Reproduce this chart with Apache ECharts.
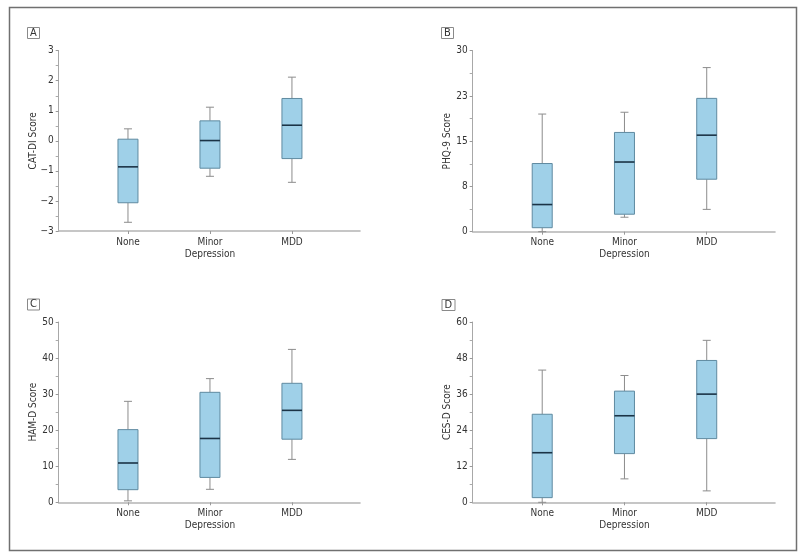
<!DOCTYPE html>
<html>
<head>
<meta charset="utf-8">
<script src="https://cdn.jsdelivr.net/npm/echarts@6/dist/echarts.min.js"></script>
<style>
html,body{margin:0;padding:0;background:#fff;}
#main{width:800px;height:554px;}
</style>
</head>
<body>
<div id="main"></div>
<script>
// ---- data ----
const categories = ['None', 'Minor\nDepression', 'MDD'];
// each entry: [lower whisker, Q1, median, Q3, upper whisker]
const catdiBoxes = [
  [-2.71, -2.06, -0.865, 0.055, 0.40],
  [-1.18, -0.91, 0.01, 0.665, 1.12],
  [-1.38, -0.59, 0.52, 1.41, 2.12]
];
const phq9Boxes = [
  [0, 0.66, 4.5, 11.3, 19.5],
  [2.4, 2.9, 11.55, 16.45, 19.8],
  [3.7, 8.7, 16.0, 22.1, 27.2]
];
const hamdBoxes = [
  [0.4, 3.5, 10.9, 20.15, 28.0],
  [3.6, 6.9, 17.7, 30.5, 34.3],
  [11.9, 17.5, 25.5, 33.0, 42.4]
];
const cesdBoxes = [
  [0, 1.55, 16.5, 29.3, 44.0],
  [7.8, 16.2, 28.8, 37.0, 42.2],
  [3.8, 21.2, 36.0, 47.2, 53.9]
];
const panelLetters = ['A', 'B', 'C', 'D'];
const axisNames = ['CAT-DI Score', 'PHQ-9 Score', 'HAM-D Score', 'CES-D Score'];
const yMins = [-3, 0, 0, 0];
const yMaxs = [3, 30, 50, 60];
const yIntervals = [1, 7.5, 10, 12];

// ---- styling / layout ----
const FONT = '"Liberation Sans Narrow", "DejaVu Sans Condensed", "Liberation Sans", sans-serif';
const FS = 10;
const grids = [
  {left: 58.7, right: 440, top: 50.7, bottom: 323},
  {left: 472.7, right: 25, top: 50.7, bottom: 322.3},
  {left: 58.7, right: 440, top: 322, bottom: 51.7},
  {left: 472.7, right: 25, top: 322, bottom: 51.7}
];
const letterPos = [[27, 27], [441, 27], [27, 298.5], [441.5, 299]];
const allBoxes = [catdiBoxes, phq9Boxes, hamdBoxes, cesdBoxes];

const BOX_HALF = 10, CAP_HALF = 4;
const FILL = '#9fd0e8', BOX_STROKE = '#5f8aa0', MED = '#1b3346', WHISK = '#8c8c8c';

function renderBox(params, api) {
  const x = api.value(0);
  const pMin = api.coord([x, api.value(1)]);
  const pQ1 = api.coord([x, api.value(2)]);
  const pMed = api.coord([x, api.value(3)]);
  const pQ3 = api.coord([x, api.value(4)]);
  const pMax = api.coord([x, api.value(5)]);
  const cx = pMed[0];
  const ws = {stroke: WHISK, lineWidth: 1};
  return {
    type: 'group',
    children: [
      {type: 'line', shape: {x1: cx, y1: pMax[1], x2: cx, y2: pQ3[1]}, style: ws},
      {type: 'line', shape: {x1: cx, y1: pQ1[1], x2: cx, y2: pMin[1]}, style: ws},
      {type: 'line', shape: {x1: cx - CAP_HALF, y1: pMax[1], x2: cx + CAP_HALF, y2: pMax[1]}, style: ws},
      {type: 'line', shape: {x1: cx - CAP_HALF, y1: pMin[1], x2: cx + CAP_HALF, y2: pMin[1]}, style: ws},
      {type: 'rect', shape: {x: cx - BOX_HALF, y: pQ3[1], width: 2 * BOX_HALF, height: pQ1[1] - pQ3[1]},
        style: {fill: FILL, stroke: BOX_STROKE, lineWidth: 1}},
      {type: 'line', shape: {x1: cx - BOX_HALF, y1: pMed[1], x2: cx + BOX_HALF, y2: pMed[1]},
        style: {stroke: MED, lineWidth: 1.6}}
    ]
  };
}

const catPositions = categories.map((c, i) => i + 1);

const option = {
  animation: false,
  backgroundColor: '#fff',
  textStyle: {fontFamily: FONT},
  title: panelLetters.map((t, i) => ({
    text: t, left: letterPos[i][0], top: letterPos[i][1],
    padding: [0, 3, 0, 3], borderColor: '#8a8a8a', borderWidth: 1,
    textStyle: {fontSize: 11, fontWeight: 'normal', color: '#333', fontFamily: FONT, lineHeight: 12}
  })),
  graphic: [{
    type: 'rect', left: 7, top: 5, silent: true,
    shape: {width: 787, height: 543},
    style: {fill: 'none', stroke: '#707070', lineWidth: 1.5}
  }],
  grid: grids,
  xAxis: grids.map((g, i) => ({
    type: 'value', gridIndex: i, min: 0.155, max: 3.83,
    splitLine: {show: false},
    axisLine: {show: true, onZero: false, lineStyle: {color: '#b4b4b4', width: 1.6}},
    axisTick: {show: true, customValues: catPositions, length: 3, lineStyle: {color: '#999'}},
    axisLabel: {
      show: true, customValues: catPositions, margin: 5,
      fontSize: FS, color: '#333', fontFamily: FONT, lineHeight: 12,
      formatter: v => categories[Math.round(v) - 1] || ''
    }
  })),
  yAxis: grids.map((g, i) => ({
    type: 'value', gridIndex: i, min: yMins[i], max: yMaxs[i], interval: yIntervals[i],
    name: axisNames[i], nameLocation: 'middle', nameGap: 20, nameMoveOverlap: false,
    nameTextStyle: {fontSize: FS, color: '#333', fontFamily: FONT},
    splitLine: {show: false},
    axisLine: {show: true, lineStyle: {color: '#a8a8a8', width: 1}},
    axisTick: {show: true, length: 3, lineStyle: {color: '#999'}},
    minorTick: {show: true, splitNumber: 2, length: 3, lineStyle: {color: '#aaa'}},
    axisLabel: {
      margin: 5, fontSize: FS, color: '#333', fontFamily: FONT,
      formatter: v => { const r = Math.round(v); return r < 0 ? '\u2212' + Math.abs(r) : String(r); }
    }
  })),
  series: allBoxes.map((boxes, i) => ({
    type: 'custom', xAxisIndex: i, yAxisIndex: i,
    renderItem: renderBox,
    encode: {x: 0, y: [1, 2, 3, 4, 5]},
    data: boxes.map((b, k) => [catPositions[k]].concat(b))
  }))
};

const chart = echarts.init(document.getElementById('main'), null, {renderer: 'canvas'});
chart.setOption(option);
</script>
</body>
</html>
